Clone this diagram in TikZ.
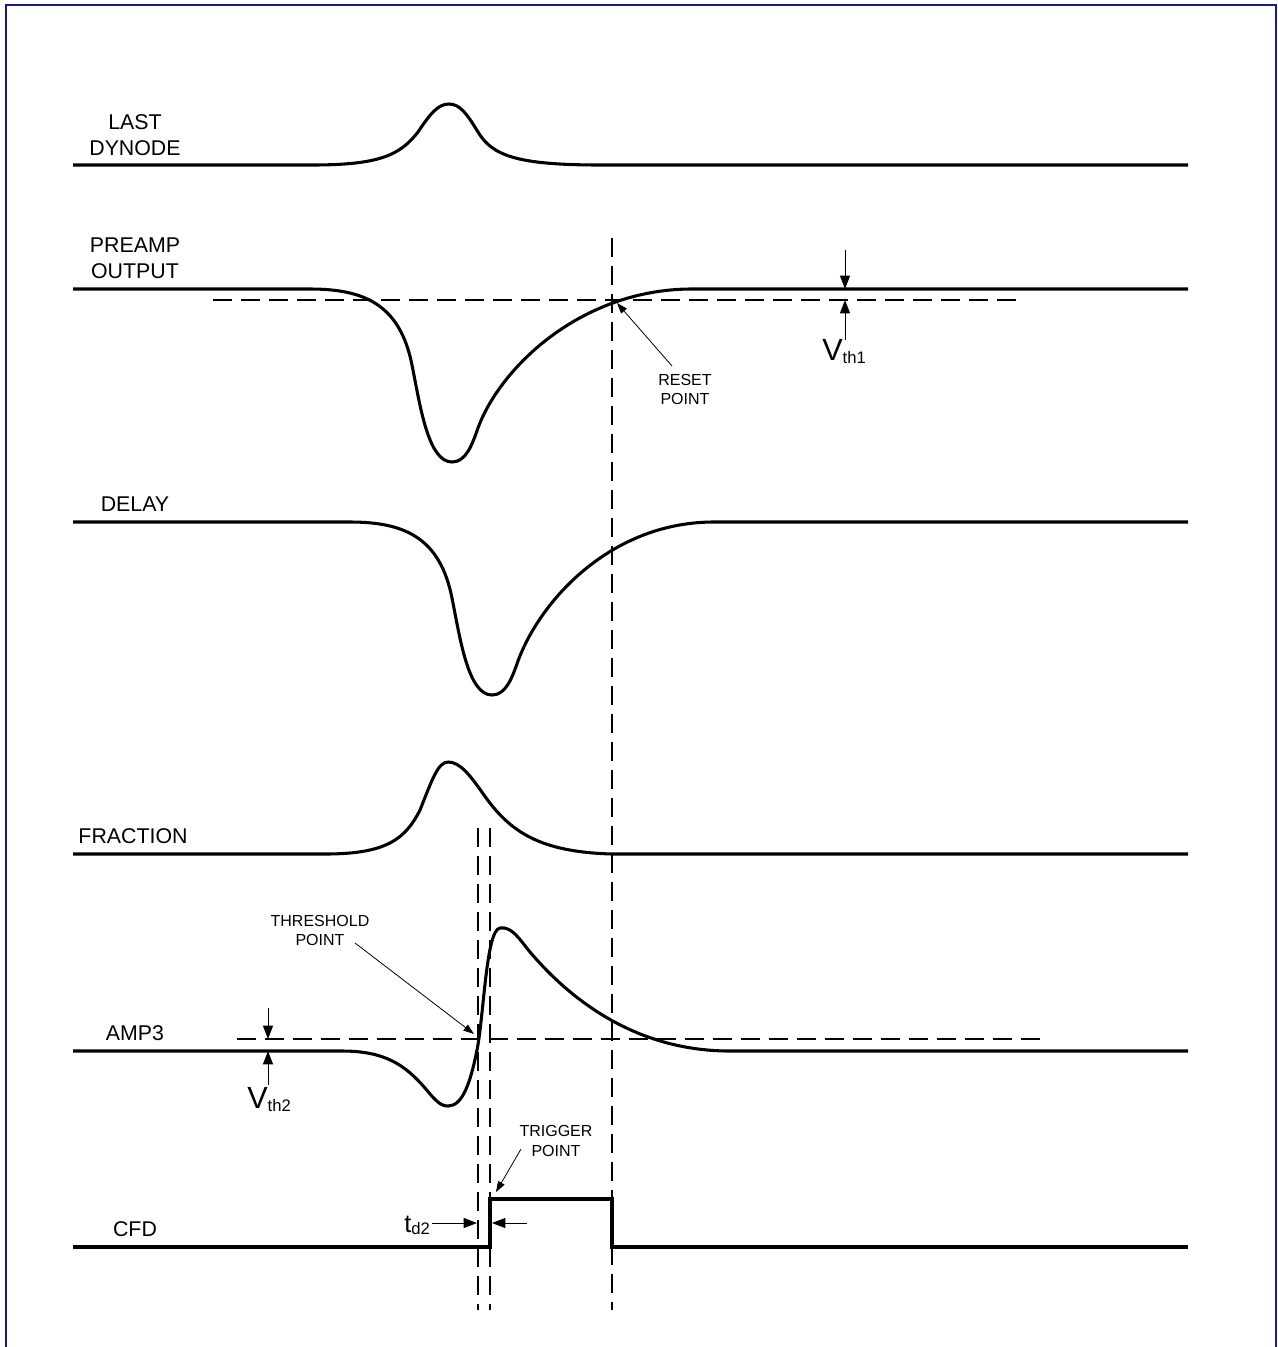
\documentclass[tikz,border=0pt]{standalone}
\usepackage{fontspec}
\setmainfont{Liberation Sans}
\usetikzlibrary{arrows.meta}
\definecolor{framecol}{RGB}{25,25,135}
\begin{document}
\begin{tikzpicture}[x=0.75pt,y=-0.75pt,
  wave/.style={line width=2.3pt, line join=round},
  dsh/.style={line width=1.85pt, dash pattern=on 14.5pt off 6.5pt},
  dimarrow/.style={line width=0.7pt, -{Triangle[length=10pt,width=7.5pt]}},
  leadarrow/.style={line width=0.6pt, -{Triangle[length=8pt,width=5.5pt]}},
  lbl/.style={anchor=base, font=\fontsize{16}{16}\selectfont, inner sep=0pt},
  sml/.style={anchor=base, font=\fontsize{12}{12}\selectfont, inner sep=0pt},
  vlbl/.style={anchor=base west, inner sep=0pt}]
\useasboundingbox (0,0) rectangle (1278,1347);
% frame
\draw[framecol, line width=1.8pt] (6,1347) -- (6,5) -- (1276,5) -- (1276,1347);

% labels
\node[lbl] (l1) at (135,129) {LAST};
\node[lbl] (l2) at (135,155) {DYNODE};
\node[lbl] (p1) at (135,252) {PREAMP};
\node[lbl] (p2) at (135,278) {OUTPUT};
\node[lbl] (dl) at (135,511) {DELAY};
\node[lbl] (fr) at (133,843) {FRACTION};
\node[lbl] (am) at (135,1040) {AMP3};
\node[lbl] (cf) at (135,1236) {CFD};

% LAST DYNODE
\draw[wave] (73,165) -- (312,165)
  .. controls (380,165) and (400,155) .. (418,132)
  .. controls (430,114) and (438,104) .. (449,104)
  .. controls (460,104) and (467,114) .. (478,132)
  .. controls (492,155) and (515,165) .. (600,165) -- (1188,165);

% PREAMP OUTPUT
\draw[wave] (73,289) -- (310,289)
  .. controls (365,289) and (400,305) .. (412,365)
  .. controls (420,405) and (428,462) .. (452,462)
  .. controls (466,462) and (472,445) .. (478,428)
  .. controls (500,368) and (580,290) .. (690,289) -- (1188,289);

% DELAY (same pulse, delayed)
\draw[wave] (73,522) -- (350,522)
  .. controls (405,522) and (440,538) .. (452,598)
  .. controls (460,638) and (468,695) .. (492,695)
  .. controls (506,695) and (512,678) .. (518,661)
  .. controls (540,601) and (610,523) .. (712,522) -- (1188,522);

% FRACTION
\draw[wave] (73,854) -- (325,854)
  .. controls (385,854) and (405,840) .. (420,810)
  .. controls (432,780) and (438,762) .. (448,762)
  .. controls (460,762) and (470,775) .. (484,795)
  .. controls (510,832) and (540,852) .. (612,854) -- (1188,854);

% AMP3
\draw[wave] (73,1051) -- (342,1051)
  .. controls (385,1051) and (405,1065) .. (425,1088)
  .. controls (435,1100) and (440,1106) .. (448,1106)
  .. controls (462,1106) and (470,1085) .. (477,1050)
  .. controls (484,1015) and (486,930) .. (500,928)
  .. controls (512,926) and (520,940) .. (530,952)
  .. controls (575,1005) and (640,1050) .. (727,1051) -- (1188,1051);

% CFD
\draw[wave, line join=miter] (73,1247) -- (490,1247) -- (490,1199) -- (612,1199) -- (612,1247) -- (1188,1247);

% dashed lines
\draw[dsh] (213,300) -- (1017,300);
\draw[dsh] (237,1039) -- (1042,1039);
\draw[dsh] (612,238) -- (612,1310);
\draw[dsh] (478,828) -- (478,1310);
\draw[dsh] (490,828) -- (490,1310);

% Vth1
\coordinate (a1s) at (845,250); \coordinate (a1e) at (845,289);
\coordinate (a2s) at (845,340); \coordinate (a2e) at (845,300);
\draw[dimarrow] (a1s) -- (a1e);
\draw[dimarrow] (a2s) -- (a2e);
\node[vlbl] (vth1) at (822,360) {\fontsize{23}{23}\selectfont V\raisebox{-2.5pt}{\fontsize{12.5}{12.5}\selectfont th1}};

% Vth2
\coordinate (b1s) at (268,1008); \coordinate (b1e) at (268,1039);
\coordinate (b2s) at (268,1085); \coordinate (b2e) at (268,1051);
\draw[dimarrow] (b1s) -- (b1e);
\draw[dimarrow] (b2s) -- (b2e);
\node[vlbl] (vth2) at (247,1108) {\fontsize{23}{23}\selectfont V\raisebox{-2.5pt}{\fontsize{12.5}{12.5}\selectfont th2}};

% RESET POINT
\node[sml] (rs1) at (685,385) {RESET};
\node[sml] (rs2) at (685,404) {POINT};
\coordinate (rsa) at (672,366); \coordinate (rsb) at (617,303);
\draw[leadarrow] (rsa) -- (rsb);

% THRESHOLD POINT
\node[sml] (th1) at (320,926) {THRESHOLD};
\node[sml] (th2) at (320,945) {POINT};
\coordinate (tha) at (355,943); \coordinate (thb) at (474,1034);
\draw[leadarrow] (tha) -- (thb);

% TRIGGER POINT
\node[sml] (tr1) at (556,1136) {TRIGGER};
\node[sml] (tr2) at (556,1156) {POINT};
\coordinate (tra) at (521,1149); \coordinate (trb) at (496,1192);
\draw[leadarrow] (tra) -- (trb);

% td2
\node[vlbl] (td2) at (404,1232) {\fontsize{19}{19}\selectfont t\raisebox{-2pt}{\fontsize{12.5}{12.5}\selectfont d2}};
\coordinate (c1s) at (432,1223); \coordinate (c1e) at (477,1223);
\coordinate (c2s) at (527,1223); \coordinate (c2e) at (492,1223);
\draw[dimarrow] (c1s) -- (c1e);
\draw[dimarrow] (c2s) -- (c2e);
\end{tikzpicture}
\end{document}
